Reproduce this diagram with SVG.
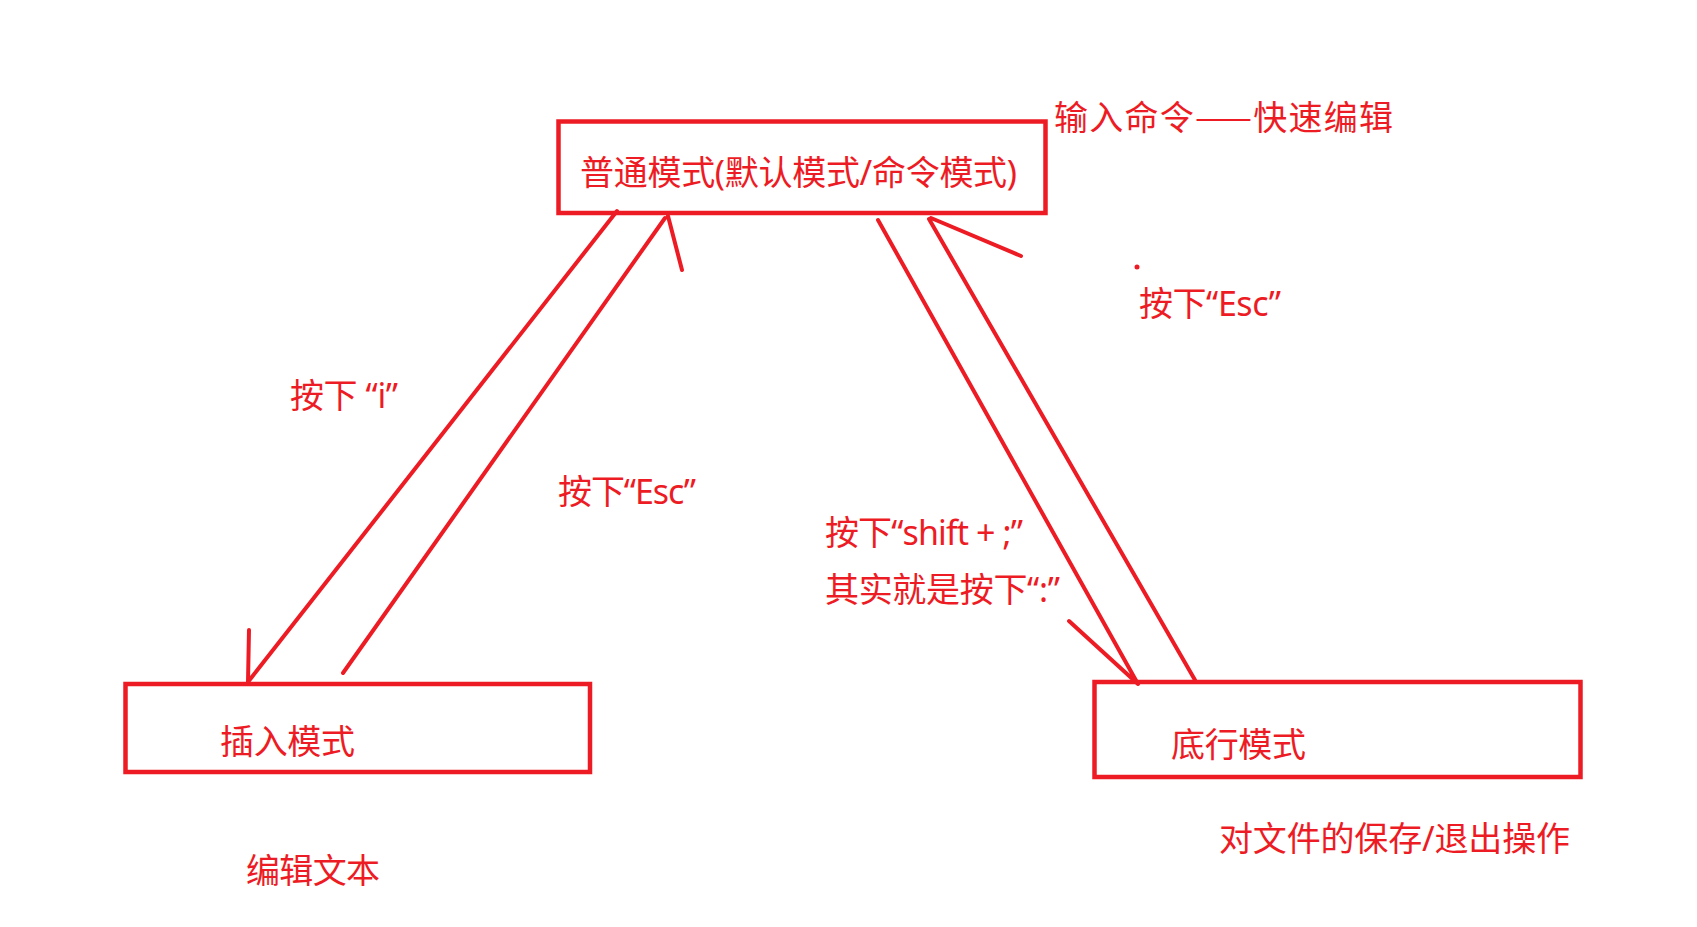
<svg xmlns="http://www.w3.org/2000/svg" width="1697" height="927" viewBox="0 0 1697 927">
<style>
.box{fill:none;stroke:#ED1C24;stroke-width:4.5}
.ln{fill:none;stroke:#ED1C24;stroke-width:4;stroke-linecap:round;stroke-linejoin:round}
.t{fill:#ED1C24;font-family:"Noto Sans","Noto Sans CJK SC",sans-serif;font-size:34px}
.cjk{font-family:"Noto Sans CJK SC",sans-serif}
</style>
<rect width="1697" height="927" fill="#ffffff"/>
<g id="node-normal">
<rect class="box" x="558.5" y="121.5" width="487" height="91.5"/>
<text class="t" x="580" y="185" textLength="437">普通模式(默认模式/命令模式)</text>
</g>
<g id="node-insert">
<rect class="box" x="125.5" y="684" width="464.5" height="88"/>
<text class="t" x="220" y="754" textLength="135">插入模式</text>
</g>
<g id="node-lastline">
<rect class="box" x="1094.5" y="682" width="486" height="95"/>
<text class="t" x="1171" y="757" textLength="135">底行模式</text>
</g>
<g id="notes">
<text class="t cjk" x="1054" y="129.5" textLength="339">输入命令——快速编辑</text>
<text class="t" x="246" y="882.5" textLength="134">编辑文本</text>
<text class="t" x="1219" y="851" textLength="351">对文件的保存/退出操作</text>
</g>
<g id="connectors">
<path class="ln" d="M617,211 L248,682 M249,630 L248,682"/>
<path class="ln" d="M343,673 L665,218 M668,216 L682,270"/>
<path class="ln" d="M878,220 L1138,684 M1069,621 L1138,684"/>
<path class="ln" d="M1195,680 L929,219 M931,218 L1021,256"/>
<circle cx="1137" cy="267" r="2.5" fill="#ED1C24"/>
</g>
<g id="labels">
<text class="t" x="290" y="407.5" textLength="108">按下 “i”</text>
<text class="t" x="558" y="503.5" textLength="138">按下“Esc”</text>
<text class="t" x="1139" y="315.5" textLength="142">按下“Esc”</text>
<text class="t" x="825" y="545" textLength="198">按下“shift + ;”</text>
<text class="t" x="825" y="602" textLength="235">其实就是按下“:”</text>
</g>
</svg>
